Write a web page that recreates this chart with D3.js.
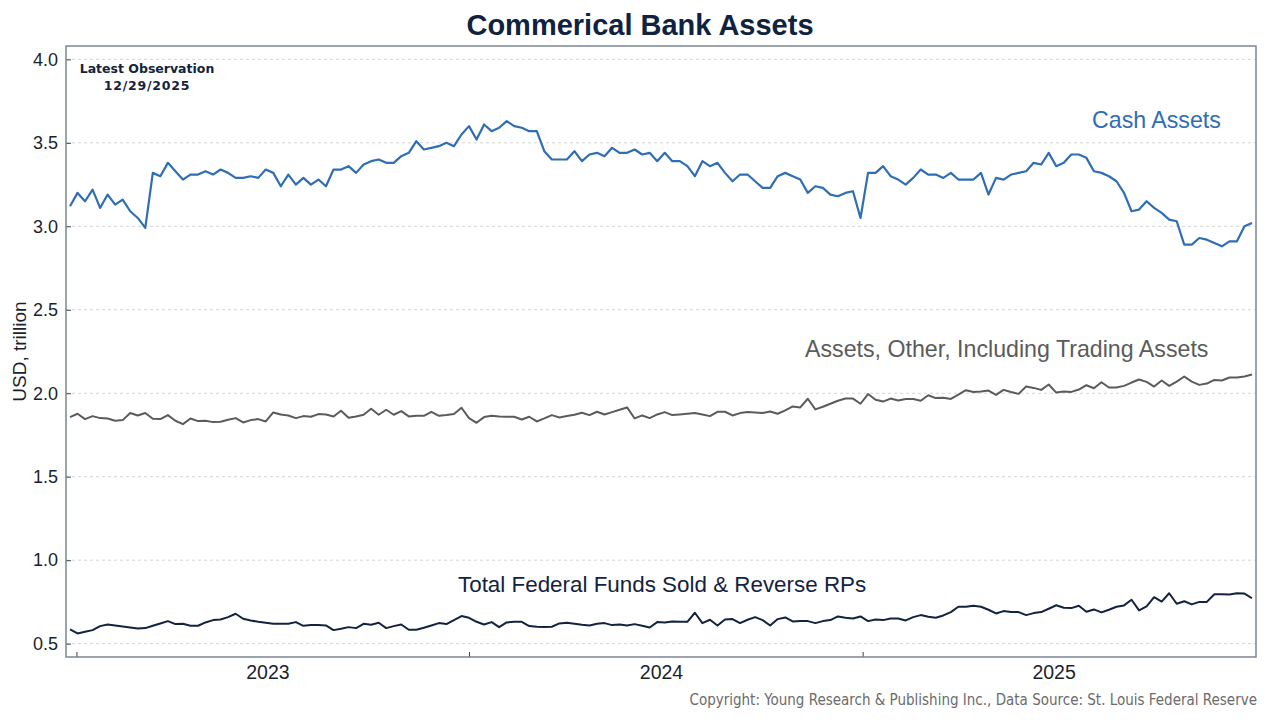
<!DOCTYPE html>
<html>
<head>
<meta charset="utf-8">
<script src="https://cdn.jsdelivr.net/npm/d3@7"></script>
<style>
  body { margin: 0; background: #fff; }
  svg { display: block; font-family: "Liberation Sans", Arial, sans-serif; }
</style>
</head>
<body>
<svg id="chart" width="1280" height="720"></svg>
<script>
// weekly observations, first one on this date
const firstObs = "2022-12-26";

const cashAssets = [
  3.12, 3.20, 3.15, 3.22, 3.11, 3.19, 3.13, 3.16, 3.09, 3.05,
  2.99, 3.32, 3.30, 3.38, 3.33, 3.28, 3.31, 3.31, 3.33, 3.31,
  3.34, 3.32, 3.29, 3.29, 3.30, 3.29, 3.34, 3.32, 3.24, 3.31,
  3.25, 3.29, 3.25, 3.28, 3.24, 3.34, 3.34, 3.36, 3.32, 3.37,
  3.39, 3.40, 3.38, 3.38, 3.42, 3.44, 3.51, 3.46, 3.47, 3.48,
  3.50, 3.48,
  3.55, 3.60, 3.52, 3.61, 3.57, 3.59, 3.63, 3.60, 3.59, 3.57,
  3.57, 3.45, 3.40, 3.40, 3.40, 3.45, 3.39, 3.43, 3.44, 3.42,
  3.47, 3.44, 3.44, 3.46, 3.43, 3.44, 3.39, 3.44, 3.39, 3.39,
  3.36, 3.30, 3.39, 3.36, 3.38, 3.32, 3.27, 3.31, 3.31, 3.27,
  3.23, 3.23, 3.30, 3.32, 3.30, 3.28, 3.20, 3.24, 3.23, 3.19,
  3.18, 3.20, 3.21,
  3.05, 3.32, 3.32, 3.36, 3.30, 3.28, 3.25, 3.29, 3.34, 3.31,
  3.31, 3.29, 3.32, 3.28, 3.28, 3.28, 3.32, 3.19, 3.29, 3.28,
  3.31, 3.32, 3.33, 3.38, 3.37, 3.44, 3.36, 3.38, 3.43, 3.43,
  3.41, 3.33, 3.32, 3.30, 3.27, 3.20, 3.09, 3.10, 3.15, 3.11,
  3.08, 3.04, 3.03, 2.89, 2.89, 2.93, 2.92, 2.90, 2.88, 2.91,
  2.91, 3.00, 3.02
];

const otherAssets = [
  1.857, 1.877, 1.845, 1.863, 1.851, 1.849, 1.835, 1.839, 1.882, 1.867,
  1.882, 1.847, 1.845, 1.869, 1.835, 1.815, 1.849, 1.833, 1.835, 1.827,
  1.829, 1.841, 1.851, 1.825, 1.839, 1.845, 1.831, 1.885, 1.873, 1.867,
  1.851, 1.863, 1.859, 1.875, 1.873, 1.861, 1.895, 1.853, 1.861, 1.871,
  1.907, 1.871, 1.901, 1.871, 1.893, 1.861, 1.865, 1.865, 1.889, 1.865,
  1.869, 1.875,
  1.913, 1.851, 1.823, 1.857, 1.865, 1.861, 1.859, 1.859, 1.843, 1.859,
  1.831, 1.849, 1.869, 1.855, 1.863, 1.871, 1.883, 1.869, 1.889, 1.873,
  1.887, 1.901, 1.915, 1.849, 1.867, 1.851, 1.873, 1.887, 1.869, 1.873,
  1.877, 1.881, 1.873, 1.863, 1.889, 1.889, 1.867, 1.881, 1.887, 1.885,
  1.881, 1.891, 1.877, 1.897, 1.921, 1.915, 1.967, 1.903, 1.919, 1.937,
  1.955, 1.968, 1.968,
  1.937, 1.995, 1.961, 1.950, 1.968, 1.956, 1.966, 1.966, 1.955, 1.988,
  1.971, 1.973, 1.966, 1.992, 2.018, 2.008, 2.010, 2.016, 1.990, 2.020,
  2.007, 1.996, 2.040, 2.032, 2.020, 2.052, 2.004, 2.010, 2.008, 2.022,
  2.048, 2.030, 2.066, 2.034, 2.034, 2.044, 2.064, 2.082, 2.068, 2.040,
  2.076, 2.044, 2.070, 2.100, 2.070, 2.050, 2.058, 2.080, 2.076, 2.094,
  2.094, 2.100, 2.112
];

const fedFunds = [
  0.585, 0.561, 0.571, 0.581, 0.605, 0.615, 0.609, 0.603, 0.597, 0.591,
  0.593, 0.607, 0.621, 0.635, 0.617, 0.619, 0.607, 0.607, 0.627, 0.641,
  0.645, 0.659, 0.679, 0.649, 0.639, 0.631, 0.625, 0.619, 0.619, 0.619,
  0.629, 0.607, 0.611, 0.611, 0.609, 0.581, 0.589, 0.599, 0.593, 0.619,
  0.613, 0.625, 0.593, 0.605, 0.615, 0.583, 0.583, 0.595, 0.609, 0.623,
  0.617, 0.641,
  0.665, 0.655, 0.631, 0.615, 0.629, 0.599, 0.627, 0.631, 0.631, 0.605,
  0.601, 0.599, 0.601, 0.621, 0.625, 0.619, 0.613, 0.609, 0.619, 0.623,
  0.611, 0.615, 0.609, 0.617, 0.607, 0.597, 0.629, 0.627, 0.633, 0.631,
  0.631, 0.685, 0.623, 0.643, 0.609, 0.645, 0.647, 0.623, 0.643, 0.659,
  0.641, 0.609, 0.647, 0.657, 0.633, 0.635, 0.635, 0.623, 0.635, 0.641,
  0.663, 0.655, 0.651,
  0.663, 0.635, 0.645, 0.641, 0.651, 0.651, 0.639, 0.659, 0.671, 0.661,
  0.655, 0.669, 0.689, 0.721, 0.721, 0.727, 0.721, 0.703, 0.681, 0.695,
  0.689, 0.689, 0.671, 0.683, 0.689, 0.709, 0.730, 0.715, 0.713, 0.727,
  0.691, 0.705, 0.687, 0.703, 0.721, 0.729, 0.763, 0.699, 0.723, 0.778,
  0.752, 0.802, 0.739, 0.754, 0.735, 0.750, 0.750, 0.796, 0.796, 0.794,
  0.802, 0.800, 0.772
];

const yTicks = [0.5, 1.0, 1.5, 2.0, 2.5, 3.0, 3.5, 4.0];
const yearTicks = ["2023", "2024", "2025"];

const svg = d3.select("#chart");
const plotLeft = 66, plotRight = 1256, plotTop = 46, plotBottom = 657;

const parse = d3.timeParse("%Y-%m-%d");
const start = parse(firstObs);
const dates = cashAssets.map((d, i) => d3.timeDay.offset(start, i * 7));

const x = d3.scaleTime()
  .domain([dates[0], dates[dates.length - 1]])
  .range([70, 1252]);

const y = d3.scaleLinear()
  .domain([0.42, 4.08])
  .range([plotBottom, plotTop]);

// title
svg.append("text")
  .attr("x", 640).attr("y", 35)
  .attr("text-anchor", "middle")
  .attr("font-size", 29).attr("font-weight", "bold")
  .attr("fill", "#0f223f")
  .text("Commerical Bank Assets");

// grid
svg.append("g")
  .selectAll("line")
  .data(yTicks)
  .join("line")
  .attr("x1", plotLeft).attr("x2", plotRight)
  .attr("y1", d => y(d)).attr("y2", d => y(d))
  .attr("stroke", "#d4d4d4")
  .attr("stroke-dasharray", "3,3");

// y axis (ticks inside the frame)
const yAxis = svg.append("g")
  .attr("transform", `translate(${plotLeft},0)`)
  .call(d3.axisRight(y).tickValues(yTicks).tickSize(5).tickFormat(d3.format(".1f")));
yAxis.select(".domain").remove();
yAxis.selectAll(".tick line").attr("stroke", "#3a4250");
yAxis.selectAll(".tick text")
  .attr("x", -8).attr("text-anchor", "end")
  .attr("font-size", 18).attr("fill", "#1b1f2e")
  .attr("font-family", "Liberation Sans, Arial, sans-serif");

// x axis: ticks at each year start, labels mid-year
const yearStarts = yearTicks.map(t => parse(t + "-01-01"));
const xAxis = svg.append("g")
  .attr("transform", `translate(0,${plotBottom})`)
  .call(d3.axisTop(x).tickValues(yearStarts).tickSize(5).tickFormat(""));
xAxis.select(".domain").remove();
xAxis.selectAll(".tick line").attr("stroke", "#3a4250");

svg.append("g")
  .selectAll("text")
  .data(yearTicks)
  .join("text")
  .attr("x", d => x(parse(d + "-06-28")))
  .attr("y", 679)
  .attr("text-anchor", "middle")
  .attr("font-size", 19.5).attr("fill", "#1b1f2e")
  .text(d => d);

// frame
svg.append("rect")
  .attr("x", plotLeft).attr("y", plotTop)
  .attr("width", plotRight - plotLeft).attr("height", plotBottom - plotTop)
  .attr("fill", "none")
  .attr("stroke", "#7b8594")
  .attr("stroke-width", 1.5);

// y label
svg.append("text")
  .attr("transform", "translate(26," + (plotTop + plotBottom) / 2 + ") rotate(-90)")
  .attr("text-anchor", "middle")
  .attr("font-size", 19).attr("fill", "#1b1f2e")
  .text("USD, trillion");

// lines
const line = d3.line()
  .x((d, i) => x(dates[i]))
  .y(d => y(d));

const series = [
  { values: otherAssets, color: "#5b5b5b", width: 2 },
  { values: fedFunds, color: "#13233f", width: 2 },
  { values: cashAssets, color: "#2f6db5", width: 2.2 }
];

svg.append("g")
  .selectAll("path")
  .data(series)
  .join("path")
  .attr("d", d => line(d.values))
  .attr("fill", "none")
  .attr("stroke", d => d.color)
  .attr("stroke-width", d => d.width)
  .attr("stroke-linejoin", "round");

// series labels
svg.append("text")
  .attr("x", 1092).attr("y", 128)
  .attr("font-size", 23.2).attr("fill", "#2f6db5")
  .text("Cash Assets");
svg.append("text")
  .attr("x", 805).attr("y", 357)
  .attr("font-size", 23.2).attr("fill", "#5b5b5b")
  .text("Assets, Other, Including Trading Assets");
svg.append("text")
  .attr("x", 458).attr("y", 592)
  .attr("font-size", 22.4).attr("fill", "#13233f")
  .text("Total Federal Funds Sold & Reverse RPs");

// latest observation note
const note = svg.append("text")
  .attr("font-family", "DejaVu Sans, Verdana, sans-serif")
  .attr("font-size", 12.5).attr("font-weight", "bold")
  .attr("fill", "#14233c")
  .attr("text-anchor", "middle");
note.append("tspan").attr("x", 147).attr("y", 73).text("Latest Observation");
note.append("tspan").attr("x", 147).attr("y", 90)
  .attr("letter-spacing", 0.8).text("12/29/2025");

// source
svg.append("text")
  .attr("x", 1257).attr("y", 705)
  .attr("text-anchor", "end")
  .attr("font-family", "DejaVu Sans Condensed, DejaVu Sans, sans-serif")
  .attr("font-size", 15).attr("fill", "#6b6b6b")
  .text("Copyright: Young Research & Publishing Inc., Data Source: St. Louis Federal Reserve");
</script>
</body>
</html>
